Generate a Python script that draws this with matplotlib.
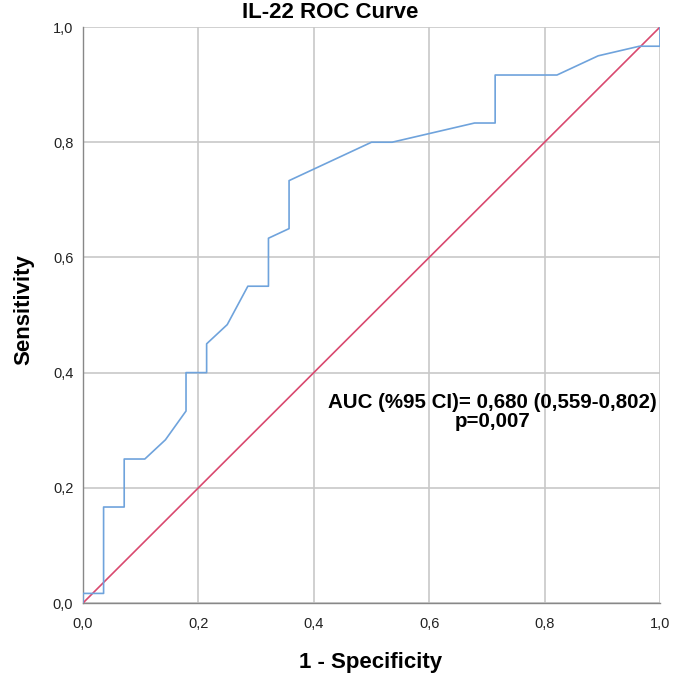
import matplotlib
matplotlib.use("Agg")
import matplotlib.pyplot as plt
from matplotlib.ticker import FuncFormatter

plt.rcParams['font.family'] = ['Liberation Sans', 'DejaVu Sans']

# ROC curve vertices (false positives out of 28 negatives, true positives out of 60 positives)
n_neg = 28
n_pos = 60
fp_counts = [0, 0, 1, 1, 2, 2, 3, 4, 5, 5, 6, 6, 7, 8, 9, 9, 10, 10, 14, 15, 19, 20, 20, 23, 25, 27, 28, 28]
tp_counts = [0, 1, 1, 10, 10, 15, 15, 17, 20, 24, 24, 27, 29, 33, 33, 38, 39, 44, 48, 48, 50, 50, 55, 55, 57, 58, 58, 60]

fpr = [c / n_neg for c in fp_counts]
tpr = [c / n_pos for c in tp_counts]

ref_line = [0, 1]
ticks = [0, 0.2, 0.4, 0.6, 0.8, 1.0]

fig = plt.figure(figsize=(6.73, 6.84), dpi=100)
ax = fig.add_axes([0.1233, 0.1184, 0.8574, 0.8421])

# grid
ax.set_axisbelow(True)
ax.grid(True, color='#c8c8c8', linewidth=1.2)

ax.plot(ref_line, ref_line, color='#d9496f', linewidth=1.2, zorder=3)
ax.plot(fpr, tpr, color='#6fa3dc', linewidth=1.2, zorder=4)

ax.set_xlim(0, 1)
ax.set_ylim(0, 1)
ax.set_xticks(ticks)
ax.set_yticks(ticks)
fmt = FuncFormatter(lambda v, p: f"{v:.1f}".replace('.', ','))
ax.xaxis.set_major_formatter(fmt)
ax.yaxis.set_major_formatter(fmt)
ax.tick_params(labelsize=10.5, length=0, colors='#222222')
ax.tick_params(axis='x', pad=10)
ax.tick_params(axis='y', pad=7)

for side in ['top', 'right']:
    ax.spines[side].set_visible(False)
for side in ['left', 'bottom']:
    ax.spines[side].set_color('#888888')
    ax.spines[side].set_linewidth(1.0)

# title and axis labels placed on the figure
fig.text(0.490, 0.9737, 'IL-22 ROC Curve', fontsize=16, fontweight='bold',
         ha='center', va='baseline')
fig.text(0.551, 0.032, '1 - Specificity', fontsize=16, fontweight='bold',
         ha='center', va='center')
fig.text(0.0357, 0.548, 'Sensitivity', fontsize=16, fontweight='bold',
         ha='center', va='center', rotation=90)

ax.text(0.709, 0.332, 'AUC (%95 CI)= 0,680 (0,559-0,802)\np=0,007',
        fontsize=14.8, fontweight='bold', ha='center', va='center',
        linespacing=1.0, transform=ax.transData, zorder=5)

fig.savefig('out.png', dpi=100)
